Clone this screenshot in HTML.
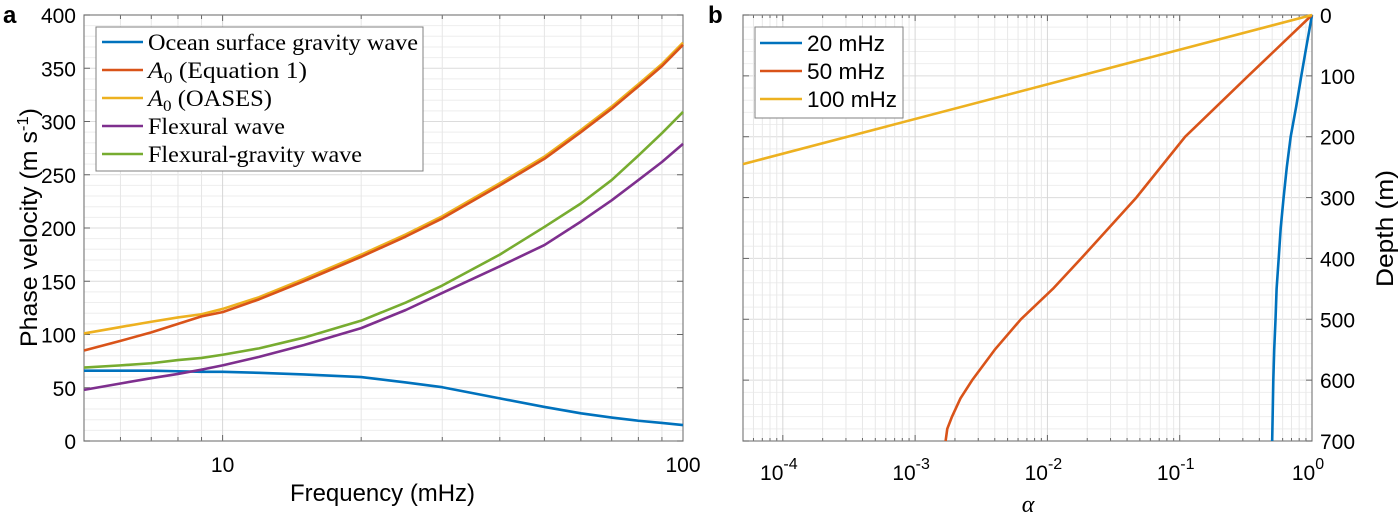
<!DOCTYPE html>
<html><head><meta charset="utf-8"><style>
html,body{margin:0;padding:0;background:#fff;width:1400px;height:517px;overflow:hidden}
svg text{font-family:"Liberation Sans",sans-serif}
</style></head><body>
<svg id="svg" width="1400" height="517" xmlns="http://www.w3.org/2000/svg">
<text x="3" y="23" font-size="24" font-weight="bold">a</text>
<text x="708" y="23" font-size="24" font-weight="bold">b</text>
<g id="pa"></g>
<g id="pb"></g>
<text x="290" y="501" font-size="24" textLength="185" lengthAdjust="spacingAndGlyphs">Frequency (mHz)</text>
<text transform="translate(37,347) rotate(-90)" font-size="24" textLength="239" lengthAdjust="spacingAndGlyphs">Phase velocity (m s<tspan dy="-9" font-size="16">-1</tspan><tspan dy="9">)</tspan></text>
<text transform="translate(1393,287) rotate(-90)" font-size="24" textLength="117" lengthAdjust="spacingAndGlyphs">Depth (m)</text>
<text x="1028" y="512" font-size="24" font-style="italic" text-anchor="middle" style="font-family:'Liberation Serif',serif">α</text>
</svg>
<script>
// Panel a data
const freqs = [5,6,7,8,9,10,12,15,20,25,30,40,50,60,70,80,90,100];
const oceanWave = [66,66,66,65.5,65,65,64,62.5,60,55,50.5,40,32,26,22,19,17,15];
const a0Eq1 = [85,94,102,110,117,121,133,150,173,192,209,240,265,290,312,333,352,372];
const a0Oases = [101,107,112,116,119,124,135,152,175,194,211,242,267,292,314,335,354,374];
const flexural = [48,54,59,63,67,71,79,90,106,123,139,164,184,206,226,245,262,279];
const flexGravity = [69,71,73,76,78,81,87,97,113,130,146,175,201,223,245,268,289,309];
const yTicksA = [0,50,100,150,200,250,300,350,400];
const xTicksA = [10,100];
// Panel b data
const depths20 = [0,50,100,150,200,250,300,350,400,450,500,550,600,650,700];
const alpha20 = [1,0.91,0.83,0.76,0.69,0.645,0.61,0.58,0.56,0.54,0.53,0.518,0.51,0.505,0.50];
const depths50 = [0,100,200,300,400,450,500,550,600,630,660,680,700];
const alpha50 = [1,0.33,0.11,0.047,0.018,0.011,0.0063,0.0040,0.0027,0.0022,0.0019,0.00175,0.0017];
const depths100 = [0,245];
const alpha100 = [1,0.00005];
const yTicksB = [0,100,200,300,400,500,600,700];
const xTicksB = [-4,-3,-2,-1,0];

const NS="http://www.w3.org/2000/svg";
function mk(parent,tag,attrs){const e=document.createElementNS(NS,tag);for(const k in attrs)e.setAttribute(k,attrs[k]);parent.appendChild(e);return e;}
const colors={blue:"#0072BD",red:"#D95319",yellow:"#EDB120",purple:"#7E2F8E",green:"#77AC30"};

// Panel A
const A={x0:84,x1:683,y0:441,y1:15};
const xa=f=>A.x0+(Math.log10(f)-Math.log10(5))/(2-Math.log10(5))*(A.x1-A.x0);
const ya=v=>A.y0-v/400*(A.y0-A.y1);
const pa=document.getElementById('pa');
for(let v=0;v<=400;v+=10){const maj=v%50===0;const l=mk(pa,'line',{x1:A.x0,x2:A.x1,y1:ya(v),y2:ya(v),stroke:maj?'#dcdcdc':'#eeeeee','stroke-width':1});

}
[5,6,7,8,9,10,20,30,40,50,60,70,80,90].forEach(f=>{const maj=f===10;const l=mk(pa,'line',{x1:xa(f),x2:xa(f),y1:A.y0,y2:A.y1,stroke:maj?'#d6d6d6':'#e6e6e6','stroke-width':1});


mk(pa,'line',{x1:xa(f),x2:xa(f),y1:A.y0,y2:A.y0-(maj?6:4),stroke:'#666'});mk(pa,'line',{x1:xa(f),x2:xa(f),y1:A.y1,y2:A.y1+(maj?6:4),stroke:'#666'});});
mk(pa,'rect',{x:A.x0,y:A.y1,width:A.x1-A.x0,height:A.y0-A.y1,fill:'none',stroke:'#808080','stroke-width':1.2});
yTicksA.forEach(v=>{mk(pa,'line',{x1:A.x0,x2:A.x0+6,y1:ya(v),y2:ya(v),stroke:'#666'});mk(pa,'line',{x1:A.x1,x2:A.x1-6,y1:ya(v),y2:ya(v),stroke:'#666'});
const t=mk(pa,'text',{x:A.x0-8,y:ya(v)+8,'font-size':21,'text-anchor':'end'});t.textContent=v;

});
xTicksA.forEach(f=>{const t=mk(pa,'text',{x:xa(f),y:472,'font-size':21,'text-anchor':'middle'});t.textContent=f;

});
const seriesA=[[oceanWave,colors.blue,'ocean-wave-line'],[flexural,colors.purple,'flexural-line'],[flexGravity,colors.green,'flexural-gravity-line'],[a0Oases,colors.yellow,'a0-oases-line'],[a0Eq1,colors.red,'a0-equation-line']];
seriesA.forEach(([d,c,n])=>{const p=mk(pa,'polyline',{points:freqs.map((f,i)=>xa(f)+','+ya(d[i])).join(' '),fill:'none',stroke:c,'stroke-width':2.6,'stroke-linejoin':'round'});

});
const lgA=mk(pa,'g',{});


mk(lgA,'rect',{x:96,y:27,width:327,height:144,fill:'#fff',stroke:'#808080'});
const labA=[[colors.blue,'Ocean surface gravity wave',270],[colors.red,'A0 (Equation 1)',159],[colors.yellow,'A0 (OASES)',124],[colors.purple,'Flexural wave',137],[colors.green,'Flexural-gravity wave',214]];
labA.forEach(([c,l,w],i)=>{const y=42+i*28;mk(lgA,'line',{x1:102,x2:143,y1:y,y2:y,stroke:c,'stroke-width':2.6});
const t=mk(lgA,'text',{x:148,y:y+8,'font-size':23,textLength:w,lengthAdjust:'spacingAndGlyphs',style:"font-family:'Liberation Serif',serif"});
if(l.startsWith('A0')){t.innerHTML='<tspan font-style="italic">A</tspan><tspan dy="5" font-size="16">0</tspan><tspan dy="-5">'+l.slice(2)+'</tspan>';}else t.textContent=l;

});

// Panel B
const B={x0:743,x1:1312,y0:15,y1:441};
const lmin=Math.log10(5e-5);
const xb=a=>B.x0+(Math.log10(a)-lmin)/(0-lmin)*(B.x1-B.x0);
const yb=d=>B.y0+d/700*(B.y1-B.y0);
const pb=document.getElementById('pb');
for(let d=0;d<=700;d+=20){const maj=d%100===0;const l=mk(pb,'line',{x1:B.x0,x2:B.x1,y1:yb(d),y2:yb(d),stroke:maj?'#dcdcdc':'#eeeeee'});

}
for(let e=-5;e<=-1;e++)for(let m=1;m<=9;m++){const a=m*Math.pow(10,e);if(a<5e-5)continue;const maj=m===1;
const l=mk(pb,'line',{x1:xb(a),x2:xb(a),y1:B.y0,y2:B.y1,stroke:maj?'#d6d6d6':'#e8e8e8'});


mk(pb,'line',{x1:xb(a),x2:xb(a),y1:B.y1,y2:B.y1-(maj?6:3),stroke:'#666'});mk(pb,'line',{x1:xb(a),x2:xb(a),y1:B.y0,y2:B.y0+(maj?6:3),stroke:'#666'});}
mk(pb,'rect',{x:B.x0,y:B.y0,width:B.x1-B.x0,height:B.y1-B.y0,fill:'none',stroke:'#808080','stroke-width':1.2});
yTicksB.forEach(d=>{mk(pb,'line',{x1:B.x0,x2:B.x0+6,y1:yb(d),y2:yb(d),stroke:'#666'});mk(pb,'line',{x1:B.x1,x2:B.x1-6,y1:yb(d),y2:yb(d),stroke:'#666'});
const t=mk(pb,'text',{x:1320,y:yb(d)+8,'font-size':21});t.textContent=d;

});
xTicksB.forEach(e=>{const t=mk(pb,'text',{x:xb(Math.pow(10,e))-4,y:480,'font-size':21,'text-anchor':'middle'});t.innerHTML='10<tspan dy="-11" font-size="16">'+e+'</tspan>';

});
[[depths20,alpha20,colors.blue,'line-20mhz'],[depths50,alpha50,colors.red,'line-50mhz'],[depths100,alpha100,colors.yellow,'line-100mhz']].forEach(([ds,as,c,n])=>{
const p=mk(pb,'polyline',{points:ds.map((d,i)=>xb(as[i])+','+yb(d)).join(' '),fill:'none',stroke:c,'stroke-width':2.6,'stroke-linejoin':'round'});

});
const lgB=mk(pb,'g',{});


mk(lgB,'rect',{x:755,y:27,width:148,height:91,fill:'#fff',stroke:'#808080'});
[[colors.blue,'20 mHz',78],[colors.red,'50 mHz',78],[colors.yellow,'100 mHz',90]].forEach(([c,l,w],i)=>{const y=43+i*28;mk(lgB,'line',{x1:760,x2:802,y1:y,y2:y,stroke:c,'stroke-width':2.6});
const t=mk(lgB,'text',{x:807,y:y+8,'font-size':22,textLength:w,lengthAdjust:'spacingAndGlyphs'});t.textContent=l;

});
</script>
</body></html>
